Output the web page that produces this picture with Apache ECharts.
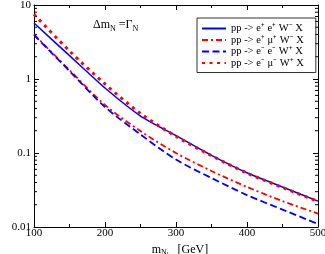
<!DOCTYPE html>
<html><head><meta charset="utf-8">
<script src="https://cdn.jsdelivr.net/npm/echarts@6/dist/echarts.min.js"></script>
<style>html,body{margin:0;padding:0;background:#fff}#c{width:325px;height:254px}</style>
</head><body><div id="c"></div>
<script>
const masses = [100, 150, 200, 250, 300, 350, 400, 450, 500];
const eePlusWminus = [5.7, 2.07, 0.755, 0.316, 0.172, 0.093, 0.054, 0.0347, 0.0224];
const emuPlusWminus = [4.0, 1.32, 0.446, 0.198, 0.100, 0.0571, 0.0348, 0.0224, 0.0152];
const eeMinusWplus = [3.94, 1.28, 0.419, 0.178, 0.0815, 0.0459, 0.027, 0.0172, 0.011];
const emuMinusWplus = [7.48, 2.39, 0.856, 0.342, 0.168, 0.092, 0.0535, 0.0342, 0.0222];
const seriesNames = ['pp -> e\u207a e\u207a W\u207b X', 'pp -> e\u207a \u03bc\u207a W\u207b X', 'pp -> e\u207b e\u207b W\u207a X', 'pp -> e\u207b \u03bc\u207b W\u207a X'];
const yTickLabels = ['0.01', '0.1', '1', '10'];
const xTickLabels = ['100', '200', '300', '400', '500'];
const yMinorValues = [];
[0.01, 0.1, 1].forEach(d => { for (let k = 2; k <= 9; k++) yMinorValues.push(+(d * k).toPrecision(3)); });

const FONT = 'Liberation Serif';
const chart = echarts.init(document.getElementById('c'), null, {renderer: 'canvas'});
const pair = arr => masses.map((m, i) => [m, arr[i]]);
const axisLine = {show: true, onZero: false, lineStyle: {color: '#000', width: 1}};

chart.setOption({
  animation: false,
  grid: {left: 34, right: 7, top: 5, bottom: 27, containLabel: false, outerBoundsMode: 'none'},
  xAxis: [{
    type: 'value', min: 100, max: 500, interval: 100, position: 'bottom',
    axisLine, axisTick: {show: true, inside: true, length: 5, lineStyle: {color: '#000'}},
    minorTick: {show: true, splitNumber: 2, length: 3, lineStyle: {color: '#000'}},
    splitLine: {show: false},
    axisLabel: {fontFamily: FONT, fontSize: 11, color: '#000', margin: 1,
      formatter: v => xTickLabels[Math.round((v - 100) / 100)]},
    name: '{m|m}{s|N}{ss|l}{g|   [GeV]}', nameLocation: 'middle', nameGap: 13,
    nameTextStyle: {fontFamily: FONT, fontSize: 12, color: '#000', padding: [0, 0, 0, 8],
      rich: {m: {fontFamily: FONT, fontSize: 12, color: '#000'},
             s: {fontFamily: FONT, fontSize: 8, color: '#000', verticalAlign: 'bottom', padding: [6, 0, 0, 0]},
             ss: {fontFamily: FONT, fontSize: 6, color: '#000', verticalAlign: 'bottom', padding: [9, 0, 0, 0]},
             g: {fontFamily: FONT, fontSize: 12, color: '#000'}}}
  }, {
    type: 'value', min: 100, max: 500, interval: 100, position: 'top',
    axisLine, axisTick: {show: true, inside: true, length: 5, lineStyle: {color: '#000'}},
    minorTick: {show: true, splitNumber: 2, length: 3, lineStyle: {color: '#000'}},
    splitLine: {show: false}, axisLabel: {show: false}
  }],
  yAxis: [{
    type: 'log', logBase: 10, min: 0.01, max: 10, position: 'left',
    axisLine, axisTick: {show: true, inside: true, length: 5, lineStyle: {color: '#000'}},
    splitLine: {show: false},
    axisLabel: {fontFamily: FONT, fontSize: 11, color: '#000', margin: 3,
      formatter: v => yTickLabels[Math.round(Math.log10(v)) + 2]},
    name: '\u03c3   [fb]', nameLocation: 'middle', nameGap: 24, nameRotate: 90,
    nameTextStyle: {fontFamily: FONT, fontSize: 12, color: '#000'}
  }, {
    type: 'log', logBase: 10, min: 0.01, max: 10, position: 'right',
    axisLine, axisTick: {show: true, inside: true, length: 5, lineStyle: {color: '#000'}},
    splitLine: {show: false}, axisLabel: {show: false}
  }],
  legend: {
    orient: 'vertical', left: 197, top: 18,
    itemWidth: 24, itemHeight: 6, itemGap: 0.5,
    padding: [5, 12, 4, 4], borderColor: '#333', borderWidth: 1,
    itemStyle: {opacity: 0},
    textStyle: {fontFamily: FONT, fontSize: 10.5, color: '#000'},
    data: seriesNames
  },
  graphic: [{
    type: 'text', left: 93, top: 19,
    style: {text: '{a|\u0394m}{b|N}{a| =\u0393}{b|N}', rich: {
      a: {fontFamily: FONT, fontSize: 12, fill: '#000'},
      b: {fontFamily: FONT, fontSize: 8, fill: '#000', padding: [8, 0, 0, 0]}}}
  }],
  series: [
    {name: seriesNames[0], type: 'line', data: pair(eePlusWminus), symbol: 'none', smooth: 0.2,
     lineStyle: {color: '#0000ff', width: 1.5, type: 'solid'}, itemStyle: {color: '#0000ff'}, z: 3},
    {name: seriesNames[1], type: 'line', data: pair(emuPlusWminus), symbol: 'none', smooth: 0.3,
     lineStyle: {color: '#ff0000', width: 1.8, type: [6, 3, 2, 3]}, itemStyle: {color: '#ff0000'}, z: 3},
    {name: seriesNames[2], type: 'line', data: pair(eeMinusWplus), symbol: 'none', smooth: 0.3,
     lineStyle: {color: '#0000ff', width: 1.8, type: [7, 3.5]}, itemStyle: {color: '#0000ff'}, z: 3},
    {name: seriesNames[3], type: 'line', data: pair(emuMinusWplus), symbol: 'none', smooth: 0.3,
     lineStyle: {color: '#ff0000', width: 3, type: [3, 4.5]}, itemStyle: {color: '#ff0000'}, z: 4},
    {type: 'custom', silent: true, data: yMinorValues.map(v => [v]), encode: {y: 0},
     renderItem: (params, api) => {
       const v = api.value(0);
       const l = api.coord([100, v]);
       const r = api.coord([500, v]);
       const st = {stroke: '#000', lineWidth: 1};
       return {type: 'group', children: [
         {type: 'line', shape: {x1: l[0], y1: l[1], x2: l[0] + 3, y2: l[1]}, style: st},
         {type: 'line', shape: {x1: r[0] - 3, y1: r[1], x2: r[0], y2: r[1]}, style: st}
       ]};
     }}
  ]
});
</script></body></html>
